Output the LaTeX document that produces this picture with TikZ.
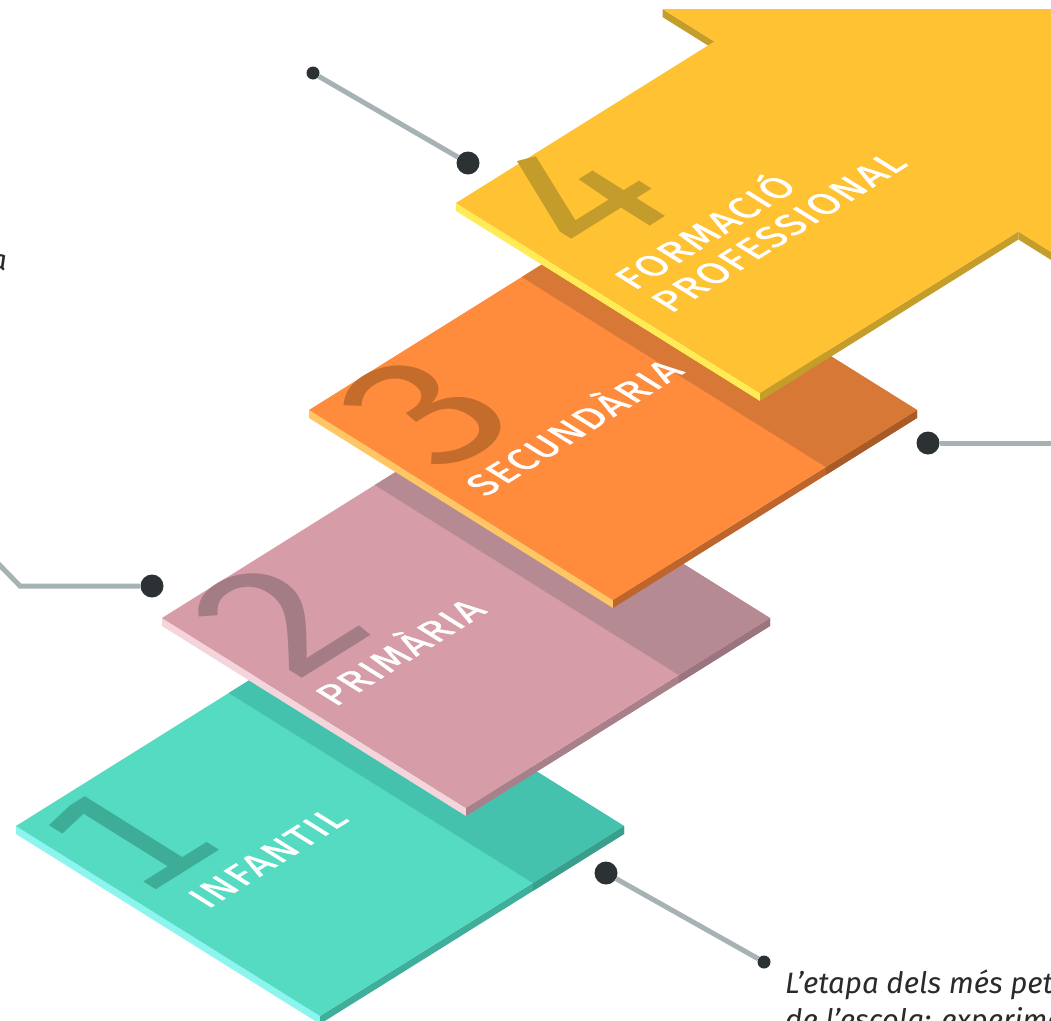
\documentclass[tikz,border=0pt]{standalone}
\usepackage{fontspec}
\setmainfont{Fira Sans}
\newfontfamily\labelfont[LetterSpace=4.5, FakeBold=1.2]{Fira Sans}
\newfontfamily\numfont{Fira Sans}
\newfontfamily\onefont{DejaVu Sans}
\definecolor{tealtop}{HTML}{56DBC3}
\definecolor{tealband}{HTML}{45C2AD}
\definecolor{tealleft}{HTML}{8CF5EE}
\definecolor{tealright}{HTML}{3FAF9B}
\definecolor{tealrightb}{HTML}{3A9E8C}
\definecolor{tealnum}{HTML}{3DAD98}
\definecolor{pinktop}{HTML}{D69CA8}
\definecolor{pinkband}{HTML}{B58A93}
\definecolor{pinkleft}{HTML}{F5D5DB}
\definecolor{pinkright}{HTML}{A88089}
\definecolor{pinkrightb}{HTML}{9A7580}
\definecolor{pinknum}{HTML}{A37C85}
\definecolor{orangetop}{HTML}{FF8B3D}
\definecolor{orangeband}{HTML}{D77836}
\definecolor{orangeleft}{HTML}{FFC665}
\definecolor{orangeright}{HTML}{BE652B}
\definecolor{orangerightb}{HTML}{A85A27}
\definecolor{orangenum}{HTML}{C46C2C}
\definecolor{yellowtop}{HTML}{FFC233}
\definecolor{yellowleft}{HTML}{FFEB55}
\definecolor{yellowright}{HTML}{C59D2B}
\definecolor{yellownum}{HTML}{C49C2B}
\definecolor{dotc}{HTML}{2C3234}
\definecolor{linec}{HTML}{A6B2B4}
\definecolor{textc}{HTML}{2A2A2A}
\newcommand{\isotile}[3]{%
 \begin{scope}[shift={(#1,#2)}, x={(304pt,190pt)}, y={(304pt,-190pt)}]
  \fill[#3left] (0,0) -- (0,1) -- ++(0pt,-8pt) -- ++(-304pt,190pt) -- cycle;
  \fill[#3right] (0,1) -- (1,1) -- ++(0pt,-8pt) -- ++(-304pt,-190pt) -- cycle;
  \fill[#3rightb] (0.7,1) -- (1,1) -- ++(0pt,-8pt) -- ++(-91.2pt,-57pt) -- cycle;
  \fill[#3top] (0,0) -- (0,1) -- (1,1) -- (1,0) -- cycle;
  \fill[#3band] (0.7,0) -- (1,0) -- (1,1) -- (0.7,1) -- cycle;
 \end{scope}}
\begin{document}
\begin{tikzpicture}[x=1pt,y=-1pt,
  onplane/.style={cm={0.848,0.530,-0.848,0.530,(0,0)}, inner sep=0pt, anchor=base west},
  bignum/.style={onplane, font=\numfont\fontsize{205}{205}\selectfont},
  stagelabel/.style={onplane, text=white, font=\labelfont\fontsize{39}{39}\selectfont},
  bigdot/.style={circle, fill=dotc, minimum size=23pt, inner sep=0pt},
  smalldot/.style={circle, fill=dotc, minimum size=13pt, inner sep=0pt},
  conn/.style={draw=linec, line width=5pt},
  desc/.style={text=textc, font=\itshape\fontsize{29.5}{36}\selectfont, inner sep=0pt}]
\useasboundingbox (0,0) rectangle (1051,1020);
\clip (0,0) rectangle (1051,1020);
\fill[white] (0,0) rectangle (1051,1020);

% tile 1
\isotile{16}{826}{teal}
\begin{scope}[shift={(16,826)}, x={(304pt,190pt)}, y={(304pt,-190pt)}]
 \node[bignum, text=tealnum, font=\onefont\fontsize{178}{178}\selectfont] (n1) at (0.0,0.40) {1};
 \node[stagelabel] (l1) at (0.096,0.535) {INFANTIL};
\end{scope}
% tile 2
\isotile{162}{618}{pink}
\begin{scope}[shift={(162,618)}, x={(304pt,190pt)}, y={(304pt,-190pt)}]
 \node[bignum, text=pinknum] (n2) at (0.05,0.39) {2};
 \node[stagelabel] (l2) at (0.05,0.52) {PRIMÀRIA};
\end{scope}
% tile 3
\isotile{309}{410}{orange}
\begin{scope}[shift={(309,410)}, x={(304pt,190pt)}, y={(304pt,-190pt)}]
 \node[bignum, text=orangenum] (n3) at (0.05,0.39) {3};
 \node[stagelabel] (l3) at (0.06,0.52) {SECUNDÀRIA};
\end{scope}
% arrow 4
\begin{scope}[shift={(456,203)}, x={(304pt,190pt)}, y={(304pt,-190pt)}]
 \fill[yellowleft] (0,0) -- (0,1) -- ++(0pt,-8pt) -- ++(-304pt,190pt) -- cycle;
 \fill[yellowright] (0,1) -- (0.85,1) -- ++(0pt,-8pt) -- ++(-258.4pt,-161.5pt) -- cycle;
 \fill[yellowright] (0.85,1) -- (0.85,1.17) -- ++(0pt,-8pt) -- ++(-51.7pt,32.3pt) -- cycle;
 \fill[yellowright] (0.85,-0.17) -- (0.85,0) -- ++(0pt,-8pt) -- ++(-51.7pt,32.3pt) -- cycle;
 \fill[yellowtop] (0,0) -- (0,1) -- (0.85,1) -- (0.85,1.17) -- (1.52,0.5) -- (0.85,-0.17) -- (0.85,0) -- cycle;
 \node[bignum, text=yellownum] (n4) at (0.071,0.381) {4};
 \node[stagelabel] (l4a) at (0.062,0.525) {FORMACIÓ};
 \node[stagelabel] (l4b) at (0.062,0.645) {PROFESSIONAL};
\end{scope}

% callouts
\node[smalldot] (s1) at (313,73) {};
\node[bigdot] (d1) at (468,163) {};
\draw[conn] (s1) -- (d1);
\coordinate (c2a) at (-14,551);
\coordinate (c2b) at (20,586);
\node[bigdot] (d2) at (152,586) {};
\draw[conn] (c2a) -- (c2b) -- (d2);
\node[bigdot] (d3) at (928,443) {};
\coordinate (c3) at (1070,443);
\draw[conn] (d3) -- (c3);
\node[bigdot] (d4) at (606,873) {};
\node[smalldot] (s4) at (764,962) {};
\draw[conn] (d4) -- (s4);

\node[desc, anchor=base west] (t4a) at (785,993) {L’etapa dels més pet};
\node[desc, anchor=base west] (t4b) at (785,1030) {de l’escola: experime};
\node[desc, anchor=base east] (t1) at (7,270) {a};
\end{tikzpicture}
\end{document}
